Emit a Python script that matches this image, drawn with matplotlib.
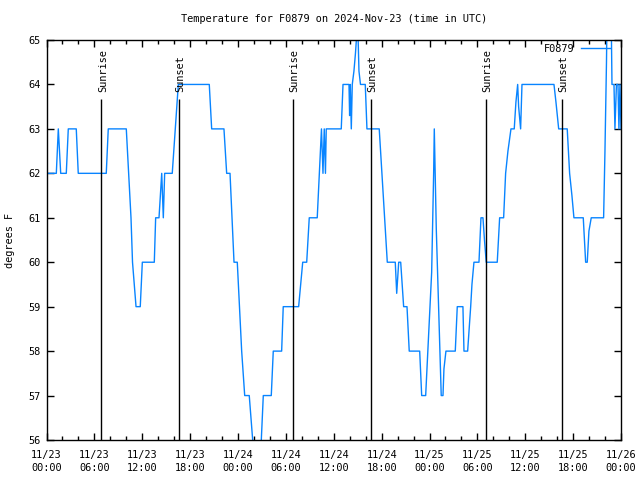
import matplotlib
matplotlib.use('Agg')
import matplotlib.pyplot as plt
from matplotlib.ticker import FixedLocator, MultipleLocator

# hours since 2024-11-23 00:00 UTC and temperature (degrees F)
hours = [0.00, 1.23, 1.48, 1.78, 2.48, 2.73, 3.73, 3.98, 7.49, 7.74, 10.00, 10.30, 10.59, 10.78,
         11.22, 11.75, 12.01, 13.51, 13.68, 14.10, 14.44, 14.64, 14.81, 15.76, 16.52, 20.40,
         20.70, 22.24, 22.58, 23.00, 23.50, 23.91, 24.46, 24.84, 25.41, 25.84, 26.00, 26.75,
         26.92, 27.17, 28.17, 28.42, 29.47, 29.67, 31.60, 32.11, 32.61, 32.93, 33.93, 34.19,
         34.46, 34.65, 34.81, 34.96, 35.06, 36.94, 37.16, 37.91, 37.99, 38.07, 38.20, 38.32,
         38.53, 38.72, 38.91, 39.03, 39.16, 39.35, 39.95, 40.16, 41.70, 42.04, 42.38, 42.71,
         43.71, 43.89, 44.14, 44.39, 44.76, 45.18, 45.46, 46.77, 47.02, 47.52, 48.27, 48.52,
         48.60, 48.85, 49.47, 49.69, 49.81, 50.06, 51.23, 51.48, 52.19, 52.32, 52.78, 53.16,
         53.32, 53.57, 54.20, 54.45, 54.70, 54.89, 55.11, 56.49, 56.79, 57.29, 57.54, 57.83,
         58.21, 58.62, 58.83, 59.05, 59.17, 59.42, 59.59, 63.60, 63.85, 64.19, 65.26, 65.56,
         65.85, 66.10, 67.27, 67.57, 67.77, 67.98, 68.27, 69.82, 69.99, 70.18, 70.28, 70.74,
         70.87, 71.12, 71.24, 71.43, 71.62, 71.74, 71.87, 72.00]
temps = [62, 62, 63, 62, 62, 63, 63, 62, 62, 63, 63, 62, 61, 60,
         59, 59, 60, 60, 61, 61, 62, 61, 62, 62, 64, 64,
         63, 63, 62, 62, 60, 60, 58, 57, 57, 56, 55, 55,
         56, 57, 57, 58, 58, 59, 59, 60, 60, 61, 61, 62,
         63, 62, 63, 62, 63, 63, 64, 64, 63.3, 64, 63, 64,
         64.3, 64.7, 65.2, 65.2, 64.3, 64, 64, 63, 63, 62, 61, 60,
         60, 59.3, 60, 60, 59, 59, 58, 58, 57, 57, 59.77, 62,
         63, 60.75, 57, 57, 57.6, 58, 58, 59, 59, 58, 58, 59,
         59.5, 60, 60, 61, 61, 60.5, 60, 60, 61, 61, 62, 62.5,
         63, 63, 63.6, 64, 63.5, 63, 64, 64, 63.6, 63, 63, 62,
         61.5, 61, 61, 60, 60, 60.7, 61, 61, 62.5, 64.5, 66, 66,
         64, 64, 63, 64, 64, 63, 64, 63]

sunrise_hours = [6.88, 30.92, 55.02]
sunset_hours = [16.64, 40.62, 64.63]
marker_top = 63.67

tick_hours = list(range(0, 73, 6))
tick_labels = ['11/23\n00:00', '11/23\n06:00', '11/23\n12:00', '11/23\n18:00',
               '11/24\n00:00', '11/24\n06:00', '11/24\n12:00', '11/24\n18:00',
               '11/25\n00:00', '11/25\n06:00', '11/25\n12:00', '11/25\n18:00',
               '11/26\n00:00']
y_ticks = list(range(56, 66))

FONT = 'DejaVu Sans Mono'
FS = 7.4
plt.rcParams['font.family'] = FONT
plt.rcParams['font.size'] = FS

fig = plt.figure(figsize=(6.4, 4.8), dpi=100)
ax = fig.add_axes([46.5 / 640, 1 - 440 / 480, (621 - 46.5) / 640, 400 / 480])

line, = ax.plot(hours, temps, color='#0884ff', lw=1.0, label='F0879')

for h in sunrise_hours:
    ax.vlines(h, 56, marker_top, color='black', lw=1.0)
    ax.text(h + 0.18, marker_top + 0.15, 'Sunrise', rotation=90, ha='center', va='bottom',
            fontsize=FS)
for h in sunset_hours:
    ax.vlines(h, 56, marker_top, color='black', lw=1.0)
    ax.text(h + 0.18, marker_top + 0.15, 'Sunset', rotation=90, ha='center', va='bottom',
            fontsize=FS)

ax.set_xlim(0, 72)
ax.set_ylim(56, 65)
ax.xaxis.set_major_locator(FixedLocator(tick_hours))
ax.set_xticklabels(tick_labels, linespacing=1.45)
ax.xaxis.set_minor_locator(MultipleLocator(2))
ax.yaxis.set_major_locator(FixedLocator(y_ticks))
ax.tick_params(which='both', direction='in', top=True, right=True, width=1.0, labelsize=FS)
ax.tick_params(which='major', length=5)
ax.tick_params(which='minor', length=3)
ax.tick_params(axis='x', pad=7)
ax.tick_params(axis='y', pad=4)
for s in ax.spines.values():
    s.set_linewidth(1.0)

leg = fig.legend(handles=[line], loc='center right', bbox_to_anchor=(610 / 640, 1 - 49 / 480),
                 frameon=False, markerfirst=False, handlelength=2.8, handletextpad=0.7,
                 borderaxespad=0.0, borderpad=0.0, fontsize=FS)

fig.text((46.5 + 621) / 2 / 640, 1 - 19 / 480,
         'Temperature for F0879 on 2024-Nov-23 (time in UTC)', ha='center', va='center',
         fontsize=FS)
fig.text(10 / 640, 1 - 240 / 480, 'degrees F', rotation=90, ha='center', va='center',
         fontsize=FS)

fig.savefig('out.png', dpi=100)
